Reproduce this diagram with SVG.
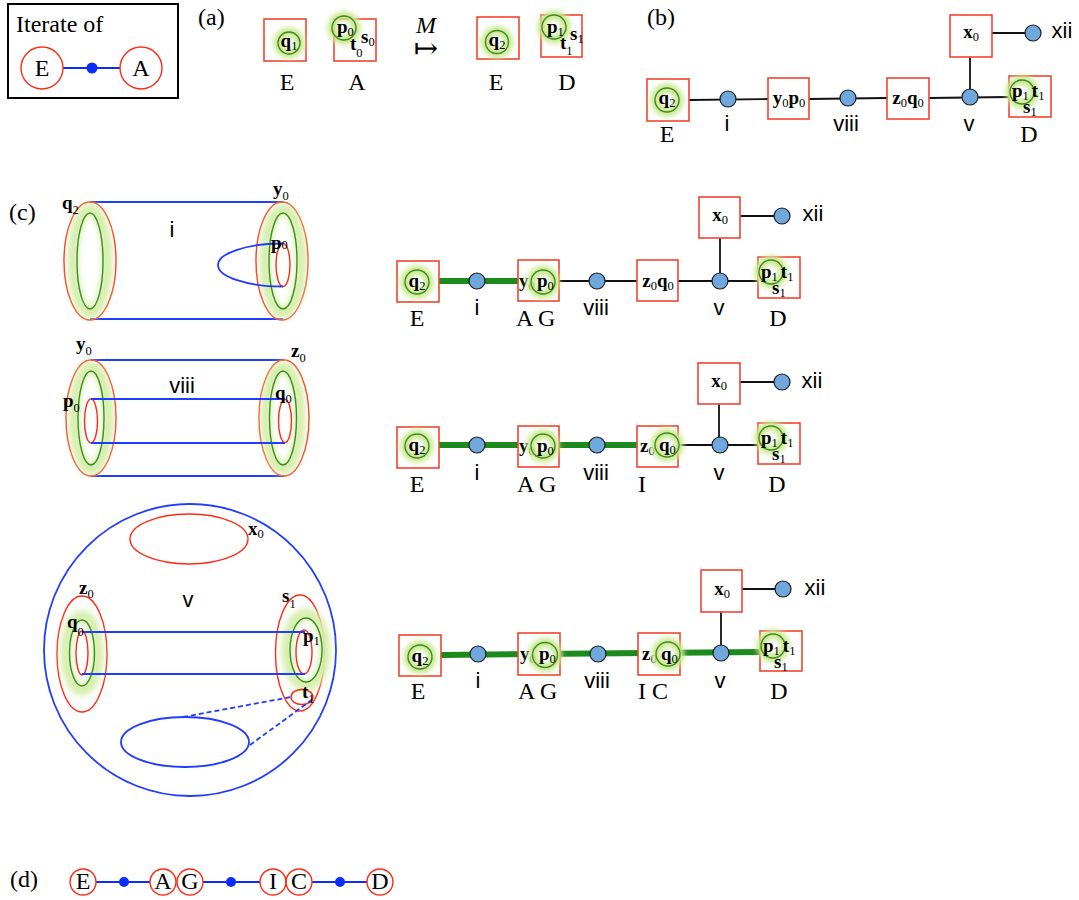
<svg xmlns="http://www.w3.org/2000/svg" width="1079" height="900" viewBox="0 0 1079 900">
<defs>
<style>
.lab{font-family:"Liberation Serif","Times New Roman",serif;font-size:24px}
.sn{font-family:"Liberation Sans",Arial,sans-serif;font-size:22px;text-anchor:middle}
.m{font-family:"Liberation Serif","Times New Roman",serif;font-weight:bold;font-size:19px}
.s{font-weight:normal;font-size:12.5px}
.bx{fill:#fff;stroke:#f2442e;stroke-width:1.6}
.nd{fill:#6fa8dc;stroke:#1a1a1a;stroke-width:1.2}
.bk{stroke:#111;stroke-width:1.8;fill:none}
.gr{stroke:#1d8a1d;stroke-width:6;fill:none}
.gc{fill:none;stroke:#3b8e1c;stroke-width:1.4}
.gw{fill:none;stroke:#cbe892;stroke-width:9;filter:url(#bl)}
.gwb{fill:none;stroke:#d6eeab;stroke-width:11;filter:url(#bl2)}
.rd{fill:none;stroke:#ff2a14;stroke-width:1.4}
.bu{fill:none;stroke:#1f3cff;stroke-width:1.8}
.dot{fill:#0a2cff}
.bul{stroke:#0a2cff;stroke-width:2}
</style>
<filter id="bl" x="-50%" y="-50%" width="200%" height="200%"><feGaussianBlur stdDeviation="2.4"/></filter>
<filter id="bl2" x="-50%" y="-50%" width="200%" height="200%"><feGaussianBlur stdDeviation="3"/></filter>
</defs>
<rect width="1079" height="900" fill="#fff"/>

<!-- Legend -->
<g id="legend">
<rect x="8" y="4" width="170" height="94" fill="#fff" stroke="#000" stroke-width="2"/>
<text class="lab" x="16" y="32" font-size="25">Iterate of</text>
<line x1="63" y1="68" x2="120" y2="68" class="bul"/>
<circle cx="92" cy="68" r="5.5" class="dot"/>
<circle cx="42" cy="68" r="21" class="rd"/>
<text class="lab" x="42" y="76" text-anchor="middle">E</text>
<circle cx="141" cy="68" r="21" class="rd"/>
<text class="lab" x="141" y="76" text-anchor="middle">A</text>
</g>

<!-- (a) -->
<g id="panel-a">
<text class="lab" x="198" y="25">(a)</text>
<g id="a-E1">
<rect x="264" y="19" width="42" height="42" class="bx"/>
<circle cx="289" cy="43" r="11" class="gw"/>
<circle cx="289" cy="43" r="11" class="gc"/>
<text class="m" x="289" y="47" text-anchor="middle">q<tspan class="s" dy="3">1</tspan></text>
<text class="lab" x="287" y="90" text-anchor="middle">E</text>
</g>
<g id="a-A">
<rect x="334" y="19" width="42" height="42" class="bx"/>
<circle cx="344" cy="28" r="12" class="gw"/>
<circle cx="344" cy="28" r="12" class="gc"/>
<text class="m" x="337" y="33">p<tspan class="s" dy="3">0</tspan></text>
<text class="m" x="361" y="43">s<tspan class="s" dy="3">0</tspan></text>
<text class="m" x="350" y="50">t<tspan class="s" dy="7">0</tspan></text>
<text class="lab" x="357" y="90" text-anchor="middle">A</text>
</g>
<text class="lab" x="426" y="33" text-anchor="middle" font-style="italic">M</text>
<text x="426" y="58" font-family="DejaVu Serif, DejaVu Sans, serif" font-size="29" text-anchor="middle">↦</text>
<g id="a-E2">
<rect x="477" y="17" width="42" height="42" class="bx"/>
<circle cx="497" cy="42" r="11.5" class="gw"/>
<circle cx="497" cy="42" r="11.5" class="gc"/>
<text class="m" x="497" y="46" text-anchor="middle">q<tspan class="s" dy="3">2</tspan></text>
<text class="lab" x="496" y="90" text-anchor="middle">E</text>
</g>
<g id="a-D">
<rect x="541" y="15" width="41" height="42" class="bx"/>
<circle cx="554" cy="27" r="12" class="gw"/>
<circle cx="554" cy="27" r="12" class="gc"/>
<text class="m" x="547" y="33">p<tspan class="s" dy="3">1</tspan></text>
<text class="m" x="570" y="40">s<tspan class="s" dy="3">1</tspan></text>
<text class="m" x="560" y="49">t<tspan class="s" dy="6">1</tspan></text>
<text class="lab" x="567" y="90" text-anchor="middle">D</text>
</g>
</g>

<!-- (b) -->
<text class="lab" x="647" y="25">(b)</text>
<g id="b-connectors">
<line x1="689" y1="100" x2="768" y2="99" class="bk"/>
<line x1="809" y1="99" x2="887" y2="98" class="bk"/>
<line x1="929" y1="98" x2="1009" y2="97" class="bk"/>
<line x1="970" y1="57" x2="970" y2="97" class="bk"/>
<line x1="992" y1="33" x2="1033" y2="33" class="bk"/>
</g>
<g id="b-E">
<rect x="647" y="79" width="42" height="42" class="bx"/>
<circle cx="667" cy="100" r="12" class="gw"/>
<circle cx="667" cy="100" r="12" class="gc"/>
<text class="m" x="667" y="104" text-anchor="middle">q<tspan class="s" dy="3">2</tspan></text>
<text class="lab" x="667" y="142" text-anchor="middle">E</text>
</g>
<g id="b-i"><circle cx="728" cy="99" r="8" class="nd"/><text class="sn" x="727" y="131">i</text></g>
<g id="b-yp">
<rect x="768" y="78" width="41" height="41" class="bx"/>
<text class="m" x="789" y="104" text-anchor="middle">y<tspan class="s" dy="3">0</tspan><tspan dy="-3">p</tspan><tspan class="s" dy="3">0</tspan></text>
</g>
<g id="b-viii"><circle cx="848" cy="98" r="8" class="nd"/><text class="sn" x="846" y="131">viii</text></g>
<g id="b-zq">
<rect x="887" y="78" width="42" height="41" class="bx"/>
<text class="m" x="908" y="104" text-anchor="middle">z<tspan class="s" dy="3">0</tspan><tspan dy="-3">q</tspan><tspan class="s" dy="3">0</tspan></text>
</g>
<g id="b-v"><circle cx="970" cy="97" r="8" class="nd"/><text class="sn" x="969" y="131">v</text></g>
<g id="b-x">
<rect x="950" y="15" width="42" height="42" class="bx"/>
<text class="m" x="971" y="38" text-anchor="middle">x<tspan class="s" dy="3">0</tspan></text>
</g>
<g id="b-xii"><circle cx="1033" cy="33" r="8" class="nd"/><text class="sn" x="1062" y="38">xii</text></g>
<g id="b-D">
<rect x="1009" y="76" width="42" height="41" class="bx"/>
<circle cx="1022" cy="92" r="12" class="gw"/>
<circle cx="1022" cy="92" r="12" class="gc"/>
<text class="m" x="1012" y="97">p<tspan class="s" dy="3">1</tspan><tspan dx="3" dy="-3">t</tspan><tspan class="s" dy="3">1</tspan></text>
<text class="m" x="1023" y="113">s<tspan class="s" dy="3">1</tspan></text>
<text class="lab" x="1029" y="142" text-anchor="middle">D</text>
</g>

<!-- (c) surfaces -->
<text class="lab" x="9" y="220">(c)</text>
<g id="cyl-i">
<line x1="90" y1="202" x2="283" y2="202" class="bu"/>
<line x1="90" y1="319" x2="283" y2="319" class="bu"/>
<ellipse cx="90" cy="261" rx="26" ry="59" class="rd"/>
<ellipse cx="90" cy="261" rx="17" ry="52" class="gwb"/>
<ellipse cx="90" cy="261" rx="13" ry="48" class="gc"/>
<ellipse cx="282" cy="261" rx="26" ry="59" class="rd"/>
<ellipse cx="283" cy="261" rx="18" ry="52" class="gwb"/>
<ellipse cx="283" cy="261" rx="14" ry="48" class="gc"/>
<ellipse cx="283" cy="265" rx="7" ry="21.5" class="rd"/>
<path d="M283,243.5 A65,21.5 0 0 0 283,286.5" class="bu"/>
<text class="m" x="62" y="209">q<tspan class="s" dy="5">2</tspan></text>
<text class="m" x="273" y="195">y<tspan class="s" dy="5">0</tspan></text>
<text class="m" x="271" y="249">p<tspan class="s" dy="0">0</tspan></text>
<text class="sn" x="172" y="237">i</text>
</g>
<g id="cyl-viii">
<line x1="91" y1="360" x2="284" y2="360" class="bu"/>
<line x1="91" y1="476" x2="284" y2="476" class="bu"/>
<ellipse cx="91" cy="418" rx="25" ry="58" class="rd"/>
<ellipse cx="91" cy="418" rx="17" ry="51" class="gwb"/>
<ellipse cx="91" cy="418" rx="13" ry="47" class="gc"/>
<ellipse cx="91" cy="421" rx="6.5" ry="22" class="rd"/>
<ellipse cx="284" cy="418" rx="25" ry="58" class="rd"/>
<ellipse cx="283" cy="418" rx="17" ry="51" class="gwb"/>
<ellipse cx="283" cy="418" rx="13.5" ry="47" class="gc"/>
<ellipse cx="285" cy="421" rx="6.5" ry="21.5" class="rd"/>
<line x1="91" y1="399" x2="285" y2="399" class="bu"/>
<line x1="91" y1="443" x2="285" y2="443" class="bu"/>
<text class="m" x="76" y="350">y<tspan class="s" dy="5">0</tspan></text>
<text class="m" x="291" y="357" font-size="16">z<tspan class="s" dy="5">0</tspan></text>
<text class="m" x="63" y="407">p<tspan class="s" dy="5">0</tspan></text>
<text class="m" x="275" y="399">q<tspan class="s" dy="4">0</tspan></text>
<text class="sn" x="182" y="393">viii</text>
</g>
<g id="sphere-v">
<circle cx="190" cy="650" r="146" class="bu"/>
<ellipse cx="189" cy="539" rx="59" ry="25" class="rd"/>
<ellipse cx="82" cy="654" rx="25" ry="58" class="rd"/>
<ellipse cx="82" cy="653" rx="16" ry="37" class="gwb"/>
<ellipse cx="82" cy="653" rx="12.5" ry="33" class="gc"/>
<ellipse cx="82" cy="653" rx="6" ry="22" class="rd"/>
<ellipse cx="300" cy="653" rx="24.5" ry="58" class="rd"/>
<ellipse cx="306" cy="650" rx="19" ry="36" class="gwb"/>
<ellipse cx="306" cy="650" rx="16" ry="32" class="gc"/>
<ellipse cx="304" cy="652" rx="8" ry="22" class="rd"/>
<line x1="82" y1="632" x2="305" y2="632" class="bu"/>
<line x1="82" y1="674" x2="305" y2="674" class="bu"/>
<ellipse cx="302" cy="697" rx="11" ry="7.5" class="rd"/>
<ellipse cx="185" cy="742" rx="64" ry="25" class="bu"/>
<line x1="183" y1="717" x2="291" y2="697" class="bu" stroke-dasharray="5,3"/>
<line x1="250" y1="745" x2="313" y2="699" class="bu" stroke-dasharray="5,3"/>
<text class="m" x="248" y="535" font-size="16">x<tspan class="s" dy="3">0</tspan></text>
<text class="m" x="79" y="594" font-size="16">z<tspan class="s" dy="4">0</tspan></text>
<text class="sn" x="188" y="607">v</text>
<text class="m" x="282" y="602">s<tspan class="s" dy="6">1</tspan></text>
<text class="m" x="67" y="628">q<tspan class="s" dy="8">0</tspan></text>
<text class="m" x="303" y="642">p<tspan class="s" dy="3">1</tspan></text>
<text class="m" x="302" y="698">t<tspan class="s" dy="5">1</tspan></text>
</g>

<!-- (c) row 1 -->
<g id="r1-connectors">
<line x1="439" y1="281" x2="518" y2="281" class="gr"/>
<line x1="559" y1="281" x2="637" y2="281" class="bk"/>
<line x1="678" y1="281" x2="758" y2="281" class="bk"/>
<line x1="720" y1="238" x2="720" y2="281" class="bk"/>
<line x1="740" y1="216" x2="782" y2="216" class="bk"/>
</g>
<g id="r1-E">
<rect x="397" y="261" width="42" height="41" class="bx"/>
<circle cx="417" cy="282" r="12" class="gw"/>
<circle cx="417" cy="282" r="12" class="gc"/>
<text class="m" x="417" y="287" text-anchor="middle">q<tspan class="s" dy="3">2</tspan></text>
<text class="lab" x="417" y="326" text-anchor="middle">E</text>
</g>
<g id="r1-i"><circle cx="477" cy="281" r="8" class="nd"/><text class="sn" x="477" y="315">i</text></g>
<g id="r1-AG">
<rect x="518" y="260" width="41" height="41" class="bx"/>
<text class="m" x="519" y="287">y<tspan class="s" dy="3">0</tspan></text>
<circle cx="543" cy="282" r="12" class="gw"/>
<circle cx="543" cy="282" r="12" class="gc"/>
<text class="m" x="537" y="287">p<tspan class="s" dy="3">0</tspan></text>
<text class="lab" x="516" y="326">A G</text>
</g>
<g id="r1-viii"><circle cx="597" cy="281" r="8" class="nd"/><text class="sn" x="596" y="315">viii</text></g>
<g id="r1-zq">
<rect x="637" y="260" width="41" height="41" class="bx"/>
<text class="m" x="658" y="287" text-anchor="middle">z<tspan class="s" dy="3">0</tspan><tspan dy="-3">q</tspan><tspan class="s" dy="3">0</tspan></text>
</g>
<g id="r1-v"><circle cx="720" cy="281" r="8" class="nd"/><text class="sn" x="719" y="315">v</text></g>
<g id="r1-x">
<rect x="699" y="197" width="41" height="41" class="bx"/>
<text class="m" x="720" y="221" text-anchor="middle">x<tspan class="s" dy="3">0</tspan></text>
</g>
<g id="r1-xii"><circle cx="782" cy="216" r="8" class="nd"/><text class="sn" x="813" y="221">xii</text></g>
<g id="r1-D">
<rect x="758" y="257" width="42" height="41" class="bx"/>
<circle cx="771" cy="272" r="12" class="gw"/>
<circle cx="771" cy="272" r="12" class="gc"/>
<text class="m" x="761" y="278">p<tspan class="s" dy="3">1</tspan><tspan dx="3" dy="-3">t</tspan><tspan class="s" dy="3">1</tspan></text>
<text class="m" x="772" y="294">s<tspan class="s" dy="3">1</tspan></text>
<text class="lab" x="778" y="326" text-anchor="middle">D</text>
</g>

<!-- (c) row 2 -->
<g id="r2-connectors">
<line x1="439" y1="445" x2="637" y2="445" class="gr"/>
<line x1="678" y1="445" x2="758" y2="445" class="bk"/>
<line x1="719" y1="404" x2="719" y2="445" class="bk"/>
<line x1="740" y1="382" x2="782" y2="382" class="bk"/>
</g>
<g id="r2-E">
<rect x="397" y="427" width="42" height="41" class="bx"/>
<circle cx="417" cy="446" r="12" class="gw"/>
<circle cx="417" cy="446" r="12" class="gc"/>
<text class="m" x="417" y="451" text-anchor="middle">q<tspan class="s" dy="3">2</tspan></text>
<text class="lab" x="417" y="492" text-anchor="middle">E</text>
</g>
<g id="r2-i"><circle cx="477" cy="445" r="8" class="nd"/><text class="sn" x="477" y="480">i</text></g>
<g id="r2-AG">
<rect x="518" y="426" width="41" height="41" class="bx"/>
<text class="m" x="519" y="452">y<tspan class="s" dy="3">0</tspan></text>
<circle cx="543" cy="446" r="12" class="gw"/>
<circle cx="543" cy="446" r="12" class="gc"/>
<text class="m" x="537" y="452">p<tspan class="s" dy="3">0</tspan></text>
<text class="lab" x="517" y="492">A G</text>
</g>
<g id="r2-viii"><circle cx="597" cy="445" r="8" class="nd"/><text class="sn" x="596" y="480">viii</text></g>
<g id="r2-I">
<rect x="637" y="426" width="41" height="41" class="bx"/>
<text class="m" x="640" y="452">z<tspan class="s" dy="3">0</tspan></text>
<circle cx="667" cy="445" r="12" class="gw"/>
<circle cx="667" cy="445" r="12" class="gc"/>
<text class="m" x="659" y="451">q<tspan class="s" dy="3">0</tspan></text>
<text class="lab" x="638" y="492">I</text>
</g>
<g id="r2-v"><circle cx="720" cy="445" r="8" class="nd"/><text class="sn" x="719" y="480">v</text></g>
<g id="r2-x">
<rect x="698" y="363" width="42" height="41" class="bx"/>
<text class="m" x="719" y="387" text-anchor="middle">x<tspan class="s" dy="3">0</tspan></text>
</g>
<g id="r2-xii"><circle cx="782" cy="382" r="8" class="nd"/><text class="sn" x="812" y="388">xii</text></g>
<g id="r2-D">
<rect x="758" y="423" width="42" height="41" class="bx"/>
<circle cx="771" cy="438" r="12" class="gw"/>
<circle cx="771" cy="438" r="12" class="gc"/>
<text class="m" x="761" y="444">p<tspan class="s" dy="3">1</tspan><tspan dx="3" dy="-3">t</tspan><tspan class="s" dy="3">1</tspan></text>
<text class="m" x="772" y="460">s<tspan class="s" dy="3">1</tspan></text>
<text class="lab" x="777" y="492" text-anchor="middle">D</text>
</g>

<!-- (c) row 3 -->
<g id="r3-connectors">
<line x1="441" y1="655" x2="760" y2="652" class="gr"/>
<line x1="721" y1="612" x2="721" y2="653" class="bk"/>
<line x1="742" y1="589" x2="783" y2="589" class="bk"/>
</g>
<g id="r3-E">
<rect x="399" y="635" width="42" height="41" class="bx"/>
<circle cx="420" cy="657" r="12" class="gw"/>
<circle cx="420" cy="657" r="12" class="gc"/>
<text class="m" x="420" y="662" text-anchor="middle">q<tspan class="s" dy="3">2</tspan></text>
<text class="lab" x="418" y="699" text-anchor="middle">E</text>
</g>
<g id="r3-i"><circle cx="478" cy="654" r="8" class="nd"/><text class="sn" x="478" y="688">i</text></g>
<g id="r3-AG">
<rect x="518" y="633" width="42" height="42" class="bx"/>
<text class="m" x="520" y="660">y<tspan class="s" dy="3">0</tspan></text>
<circle cx="545" cy="655" r="12.5" class="gw"/>
<circle cx="545" cy="655" r="12.5" class="gc"/>
<text class="m" x="539" y="660">p<tspan class="s" dy="3">0</tspan></text>
<text class="lab" x="518" y="699">A G</text>
</g>
<g id="r3-viii"><circle cx="598" cy="654" r="8" class="nd"/><text class="sn" x="597" y="688">viii</text></g>
<g id="r3-IC">
<rect x="638" y="633" width="42" height="42" class="bx"/>
<text class="m" x="642" y="660">z<tspan class="s" dy="3">0</tspan></text>
<circle cx="668" cy="654" r="12" class="gw"/>
<circle cx="668" cy="654" r="12" class="gc"/>
<text class="m" x="661" y="660">q<tspan class="s" dy="3">0</tspan></text>
<text class="lab" x="638" y="699">I C</text>
</g>
<g id="r3-v"><circle cx="721" cy="653" r="8" class="nd"/><text class="sn" x="720" y="688">v</text></g>
<g id="r3-x">
<rect x="701" y="570" width="41" height="42" class="bx"/>
<text class="m" x="722" y="595" text-anchor="middle">x<tspan class="s" dy="3">0</tspan></text>
</g>
<g id="r3-xii"><circle cx="783" cy="589" r="8" class="nd"/><text class="sn" x="815" y="595">xii</text></g>
<g id="r3-D">
<rect x="760" y="631" width="42" height="40" class="bx"/>
<circle cx="773" cy="646" r="12" class="gw"/>
<circle cx="773" cy="646" r="12" class="gc"/>
<text class="m" x="763" y="652">p<tspan class="s" dy="3">1</tspan><tspan dx="3" dy="-3">t</tspan><tspan class="s" dy="3">1</tspan></text>
<text class="m" x="774" y="668">s<tspan class="s" dy="3">1</tspan></text>
<text class="lab" x="779" y="699" text-anchor="middle">D</text>
</g>

<!-- (d) -->
<text class="lab" x="10" y="887">(d)</text>
<g id="d-connectors">
<line x1="96" y1="882" x2="150" y2="882" class="bul"/>
<line x1="203" y1="882" x2="260" y2="882" class="bul"/>
<line x1="312" y1="882" x2="367" y2="882" class="bul"/>
<circle cx="124" cy="882" r="5" class="dot"/>
<circle cx="231" cy="882" r="5" class="dot"/>
<circle cx="340" cy="882" r="5" class="dot"/>
</g>
<g id="d-E"><circle cx="83" cy="882" r="13" class="rd"/><text class="lab" font-size="20" x="83" y="889" text-anchor="middle">E</text></g>
<g id="d-A"><circle cx="163" cy="882" r="13" class="rd"/><text class="lab" font-size="20" x="163" y="889" text-anchor="middle">A</text></g>
<g id="d-G"><circle cx="190" cy="882" r="13" class="rd"/><text class="lab" font-size="20" x="190" y="889" text-anchor="middle">G</text></g>
<g id="d-I"><circle cx="273" cy="882" r="13" class="rd"/><text class="lab" font-size="20" x="273" y="889" text-anchor="middle">I</text></g>
<g id="d-C"><circle cx="299" cy="882" r="13" class="rd"/><text class="lab" font-size="20" x="299" y="889" text-anchor="middle">C</text></g>
<g id="d-D"><circle cx="380" cy="882" r="13" class="rd"/><text class="lab" font-size="20" x="380" y="889" text-anchor="middle">D</text></g>
</svg>
